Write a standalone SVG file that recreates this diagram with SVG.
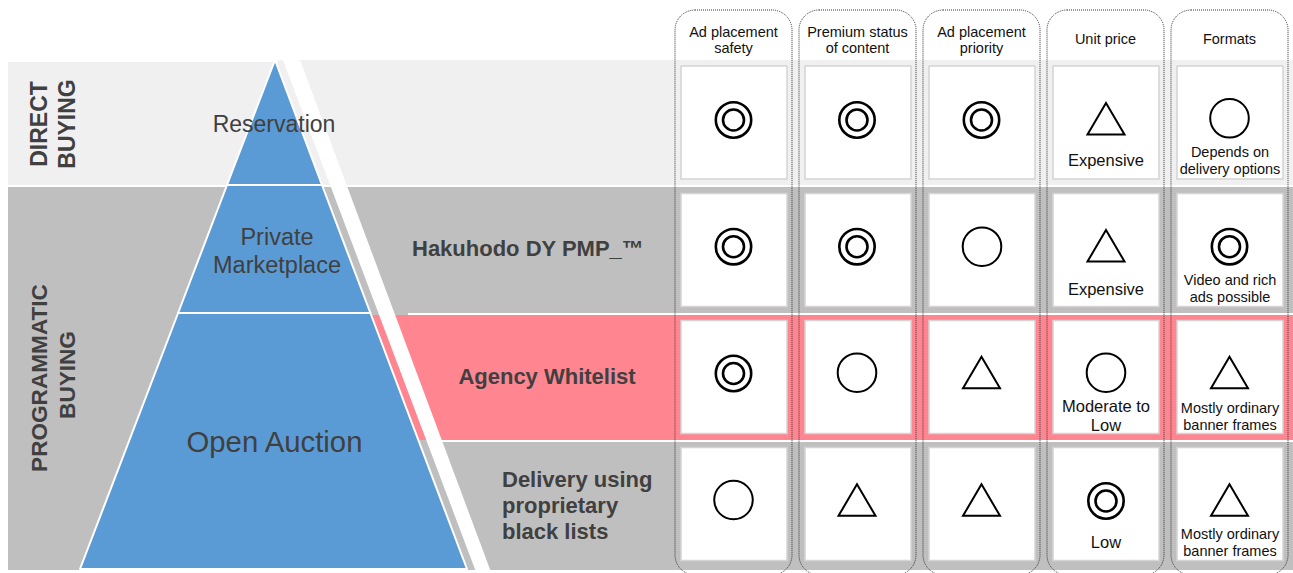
<svg xmlns="http://www.w3.org/2000/svg" xmlns:xlink="http://www.w3.org/1999/xlink" width="1293" height="573" viewBox="0 0 1293 573">
<style>
.t{font-family:"Liberation Sans",Arial,sans-serif;fill:#404040}
.b{font-weight:bold}
.h{font-family:"Liberation Sans",Arial,sans-serif;fill:#111;font-size:14.5px;text-anchor:middle}
.c{font-family:"Liberation Sans",Arial,sans-serif;fill:#111;text-anchor:middle}
.pyr{fill:#5b9bd5;stroke:#fff;stroke-width:2;stroke-linejoin:round}
.col{fill:none;stroke:#333;stroke-width:1;stroke-dasharray:1 1}
.cell{fill:#fff;stroke:#d4d4d4;stroke-width:1.5}
.sym{fill:none;stroke:#000;stroke-width:2}
.dsym{fill:none;stroke:#000;stroke-width:2.6}
</style>
<defs>
<g id="dbl" class="dsym"><circle r="17.7"/><circle r="10.5"/></g>
<circle id="circ" class="sym" r="19.3"/>
<path id="tri" class="sym" d="M0,-15.5 L18.5,16 L-18.5,16 Z" stroke-linejoin="miter"/>
</defs>
<rect width="1293" height="573" fill="#fff"/>
<g id="bands">
<rect x="8" y="62" width="285" height="123" fill="#f0f0f0"/>
<rect x="278" y="60" width="1015" height="125" fill="#f0f0f0"/>
<rect x="8" y="187" width="1285" height="383" fill="#bfbfbf"/>
<rect x="360" y="315" width="933" height="125" fill="#ff8690"/>
<rect x="408" y="313" width="885" height="2" fill="#fff"/>
<rect x="440" y="440" width="853" height="2" fill="#fff"/>
<polygon points="283,60 300,60 491,572 476,572" fill="#fff"/>
</g>
<g id="side-labels">
<text class="t b" font-size="23" text-anchor="middle" transform="translate(47,124) rotate(-90)">DIRECT</text>
<text class="t b" font-size="23" text-anchor="middle" transform="translate(75,124) rotate(-90)">BUYING</text>
<text class="t b" font-size="22.6" text-anchor="middle" transform="translate(47,378) rotate(-90)">PROGRAMMATIC</text>
<text class="t b" font-size="22.6" text-anchor="middle" transform="translate(75,375) rotate(-90)">BUYING</text>
</g>
<g id="pyramid-top">
<polygon class="pyr" points="275,60 227,185 322,185"/>
<text class="t" font-size="23" x="274" y="132" text-anchor="middle">Reservation</text>
</g>
<g id="pyramid-mid">
<polygon class="pyr" points="227,185 322,185 370.4,313 178.1,313"/>
<text class="t" font-size="23.5" x="277" y="245" text-anchor="middle">Private</text>
<text class="t" font-size="23.5" x="277" y="272.5" text-anchor="middle">Marketplace</text>
</g>
<g id="pyramid-bottom">
<polygon class="pyr" points="178.1,313 370.4,313 467,569 80,569"/>
<text class="t" font-size="29.3" x="274.5" y="452" text-anchor="middle">Open Auction</text>
</g>
<g id="row-labels">
<text class="t b" font-size="22" x="412" y="256">Hakuhodo DY PMP_™</text>
<text class="t b" font-size="22" x="547" y="384" text-anchor="middle">Agency Whitelist</text>
<text class="t b" font-size="22" x="502" y="487">Delivery using</text>
<text class="t b" font-size="22" x="502" y="513">proprietary</text>
<text class="t b" font-size="22" x="502" y="539">black lists</text>
</g>
<g id="columns">
<rect class="col" x="675" y="10" width="117" height="565" rx="20"/>
<rect class="col" x="799" y="10" width="117" height="565" rx="20"/>
<rect class="col" x="923" y="10" width="117" height="565" rx="20"/>
<rect class="col" x="1047" y="10" width="117" height="565" rx="20"/>
<rect class="col" x="1171" y="10" width="117" height="565" rx="20"/>
<text class="h" x="733.5" y="36.5">Ad placement</text>
<text class="h" x="733.5" y="53">safety</text>
<text class="h" x="857.5" y="36.5">Premium status</text>
<text class="h" x="857.5" y="53">of content</text>
<text class="h" x="981.5" y="36.5">Ad placement</text>
<text class="h" x="981.5" y="53">priority</text>
<text class="h" x="1105.5" y="44">Unit price</text>
<text class="h" x="1229.5" y="44">Formats</text>
</g>
<g id="cells">
<rect class="cell" x="681" y="66" width="106" height="113"/>
<rect class="cell" x="805" y="66" width="106" height="113"/>
<rect class="cell" x="929" y="66" width="106" height="113"/>
<rect class="cell" x="1053" y="66" width="106" height="113"/>
<rect class="cell" x="1177" y="66" width="106" height="113"/>
<rect class="cell" x="681" y="193.5" width="106" height="113"/>
<rect class="cell" x="805" y="193.5" width="106" height="113"/>
<rect class="cell" x="929" y="193.5" width="106" height="113"/>
<rect class="cell" x="1053" y="193.5" width="106" height="113"/>
<rect class="cell" x="1177" y="193.5" width="106" height="113"/>
<rect class="cell" x="681" y="320.5" width="106" height="113"/>
<rect class="cell" x="805" y="320.5" width="106" height="113"/>
<rect class="cell" x="929" y="320.5" width="106" height="113"/>
<rect class="cell" x="1053" y="320.5" width="106" height="113"/>
<rect class="cell" x="1177" y="320.5" width="106" height="113"/>
<rect class="cell" x="681" y="447.5" width="106" height="113"/>
<rect class="cell" x="805" y="447.5" width="106" height="113"/>
<rect class="cell" x="929" y="447.5" width="106" height="113"/>
<rect class="cell" x="1053" y="447.5" width="106" height="113"/>
<rect class="cell" x="1177" y="447.5" width="106" height="113"/>
</g>
<g id="symbols">
<use xlink:href="#dbl" x="733.5" y="120"/>
<use xlink:href="#dbl" x="857" y="120"/>
<use xlink:href="#dbl" x="981.5" y="120"/>
<use xlink:href="#tri" x="1106" y="118.5"/>
<use xlink:href="#circ" x="1229.5" y="118.3"/>
<use xlink:href="#dbl" x="733.5" y="246.7"/>
<use xlink:href="#dbl" x="857" y="246.7"/>
<use xlink:href="#circ" x="982" y="246.7"/>
<use xlink:href="#tri" x="1106" y="245.5"/>
<use xlink:href="#dbl" x="1229.5" y="246.7"/>
<use xlink:href="#dbl" x="733.5" y="373.5"/>
<use xlink:href="#circ" x="857" y="372.7"/>
<use xlink:href="#tri" x="981.5" y="372.3"/>
<use xlink:href="#circ" x="1106" y="372.7"/>
<use xlink:href="#tri" x="1229.5" y="372.3"/>
<use xlink:href="#circ" x="733.5" y="500"/>
<use xlink:href="#tri" x="857" y="499.8"/>
<use xlink:href="#tri" x="981.5" y="499.8"/>
<use xlink:href="#dbl" x="1106" y="501"/>
<use xlink:href="#tri" x="1229.5" y="499.8"/>
</g>
<g id="cell-texts">
<text class="c" font-size="16.5" x="1106" y="166">Expensive</text>
<text class="c" font-size="14.5" x="1230" y="157">Depends on</text>
<text class="c" font-size="14.5" x="1230" y="174">delivery options</text>
<text class="c" font-size="16.5" x="1106" y="295">Expensive</text>
<text class="c" font-size="14.5" x="1230" y="285">Video and rich</text>
<text class="c" font-size="14.5" x="1230" y="302">ads possible</text>
<text class="c" font-size="16.5" x="1106" y="412">Moderate to</text>
<text class="c" font-size="16.5" x="1106" y="431">Low</text>
<text class="c" font-size="14.5" x="1230" y="413">Mostly ordinary</text>
<text class="c" font-size="14.5" x="1230" y="430">banner frames</text>
<text class="c" font-size="16.5" x="1106" y="548">Low</text>
<text class="c" font-size="14.5" x="1230" y="539">Mostly ordinary</text>
<text class="c" font-size="14.5" x="1230" y="556">banner frames</text>
</g>
</svg>
